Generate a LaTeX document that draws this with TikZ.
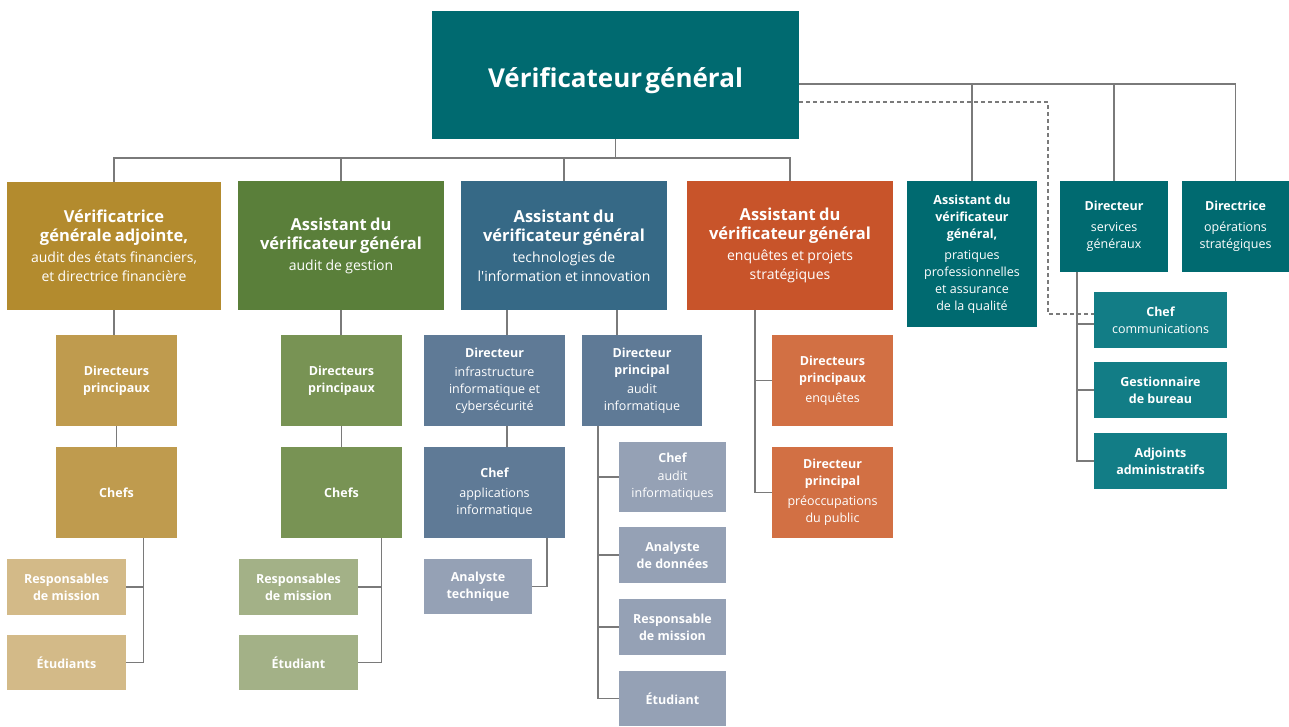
\documentclass[tikz,border=0pt]{standalone}
\usepackage{fontspec}
\setmainfont{Open Sans}
\usetikzlibrary{calc}
\definecolor{teal1}{HTML}{006A70}
\definecolor{teal2}{HTML}{127D86}
\definecolor{gold1}{HTML}{B38B2E}
\definecolor{gold2}{HTML}{BF9B4E}
\definecolor{gold3}{HTML}{D3BA88}
\definecolor{green1}{HTML}{5A7F3A}
\definecolor{green2}{HTML}{789354}
\definecolor{green3}{HTML}{A3B187}
\definecolor{blue1}{HTML}{366986}
\definecolor{blue2}{HTML}{5F7A96}
\definecolor{blue3}{HTML}{95A1B5}
\definecolor{orange1}{HTML}{C8542A}
\definecolor{orange2}{HTML}{D27044}
\definecolor{linegray}{HTML}{7A7A7A}
\newcommand{\bx}[7]{\node[box, fill=#6, minimum width={#4pt-#2pt}, minimum height={#5pt-#3pt}, text width={#4pt-#2pt-4pt}] (#1) at ({(#2+#4)/2},{-(#3+#5)/2}) {#7\par};}
\newcommand{\bigT}{\fontsize{16.5}{19}\selectfont\bfseries}
\newcommand{\bigS}{\fontsize{14}{19}\selectfont\mdseries}
\newcommand{\smT}{\fontsize{12.5}{17}\selectfont\bfseries}
\newcommand{\smS}{\fontsize{12.5}{17}\selectfont\mdseries}
\begin{document}
\begin{tikzpicture}[x=1pt,y=1pt,
  box/.style={inner sep=0pt, outer sep=0pt, text=white, align=center, draw=none},
  conn/.style={draw=linegray, line width=1.3pt},
  dashconn/.style={draw=linegray, line width=1.1pt, dash pattern=on 4pt off 3pt}]
\useasboundingbox (0,0) rectangle (1289,-726);
% top
\bx{top}{432}{11}{799}{139}{teal1}{\fontsize{26}{32}\selectfont\bfseries\raisebox{-12.3pt}[0pt][0pt]{Vérificateur général}}
% level 1
\bx{b1}{7}{182}{221}{310}{gold1}{\bigT Vérificatrice\\générale adjointe,\\[2pt]\bigS audit des états financiers,\\et directrice financière}
\bx{b2}{238}{181}{444}{310}{green1}{\bigT Assistant du\\vérificateur général\\[2pt]\bigS audit de gestion}
\bx{b3}{461}{181}{667}{310}{blue1}{\bigT Assistant du\\vérificateur général\\[2pt]\bigS technologies de\\l\textquotesingle information et innovation}
\bx{b4}{687}{181}{893}{310}{orange1}{\bigT Assistant du\\vérificateur général\\[2pt]\bigS enquêtes et projets\\stratégiques}
\bx{b5}{907}{181}{1037}{327}{teal1}{\smT Assistant du\\vérificateur\\général,\\[4pt]\smS pratiques\\professionnelles\\et assurance\\de la qualité}
\bx{b6}{1060}{181}{1168}{272}{teal1}{\smT Directeur\\[4pt]\smS services\\généraux}
\bx{b7}{1182}{181}{1289}{272}{teal1}{\smT Directrice\\[4pt]\smS opérations\\stratégiques}
% b6 children
\bx{b6cc}{1094}{292}{1227}{348}{teal2}{\smT Chef\\\smS communications}
\bx{b6gb}{1094}{362}{1227}{418}{teal2}{\smT Gestionnaire\\de bureau}
\bx{b6aa}{1094}{433}{1227}{489}{teal2}{\smT Adjoints\\administratifs}
% b1 children
\bx{b1dp}{56}{335}{177}{426}{gold2}{\smT Directeurs\\principaux}
\bx{b1c}{56}{447}{177}{538}{gold2}{\smT Chefs}
\bx{b1r}{7}{559}{126}{615}{gold3}{\smT Responsables\\de mission}
\bx{b1e}{7}{635}{126}{690}{gold3}{\smT Étudiants}
% b2 children
\bx{b2dp}{281}{335}{402}{426}{green2}{\smT Directeurs\\principaux}
\bx{b2c}{281}{447}{402}{538}{green2}{\smT Chefs}
\bx{b2r}{239}{559}{358}{615}{green3}{\smT Responsables\\de mission}
\bx{b2e}{239}{635}{358}{690}{green3}{\smT Étudiant}
% b3 children
\bx{b3di}{424}{335}{565}{426}{blue2}{\smT Directeur\\[2pt]\smS infrastructure\\informatique et\\cybersécurité}
\bx{b3dp}{582}{335}{702}{426}{blue2}{\smT Directeur\\principal\\[2pt]\smS audit\\informatique}
\bx{b3ca}{424}{447}{565}{538}{blue2}{\smT Chef\\[3pt]\smS applications\\informatique}
\bx{b3at}{424}{559}{532}{614}{blue3}{\smT Analyste\\technique}
\bx{b3ch}{619}{442}{726}{512}{blue3}{\smT Chef\\[1pt]\smS audit\\informatiques}
\bx{b3ad}{619}{527}{726}{583}{blue3}{\smT Analyste\\de données}
\bx{b3rm}{619}{599}{726}{655}{blue3}{\smT Responsable\\de mission}
\bx{b3e}{619}{671}{726}{726}{blue3}{\smT Étudiant}
% b4 children
\bx{b4dp}{772}{335}{893}{426}{orange2}{\smT Directeurs\\principaux\\[3pt]\smS enquêtes}
\bx{b4pp}{772}{447}{893}{538}{orange2}{\smT Directeur\\principal\\[3pt]\smS préoccupations\\du public}
% connectors: top bus
\coordinate (bus) at (0,-158);
\draw[conn] (top.south) -- (top.south |- bus);
\draw[conn] (b1.north) -- (b1.north |- bus) -- (b4.north |- bus) -- (b4.north);
\draw[conn] (b2.north) -- (b2.north |- bus);
\draw[conn] (b3.north) -- (b3.north |- bus);
% right bus
\coordinate (r1) at ([yshift=-9pt]top.east);
\draw[conn] (r1) -| (b7.north);
\draw[conn] (b5.north) -- (b5.north |- r1);
\draw[conn] (b6.north) -- (b6.north |- r1);
% dashed
\coordinate (dk) at ([yshift=6pt]b6cc.west);
\draw[dashconn] ([yshift=-27pt]top.east) -| ([xshift=-46pt]dk) -- (dk);
% b6 children
\coordinate (b6x) at ([xshift=-37pt]b6.south);
\draw[conn] (b6x) |- (b6aa.west);
\draw[conn] ([yshift=-4pt]b6cc.west) -- ([yshift=-4pt]b6cc.west -| b6x);
\draw[conn] (b6gb.west) -- (b6gb.west -| b6x);
% b1 children
\draw[conn] (b1.south) -- (b1.south |- b1dp.north);
\draw[conn] (b1dp.south) -- (b1c.north);
\coordinate (b1x) at ([xshift=27pt]b1c.south);
\draw[conn] (b1x) |- (b1e.east);
\draw[conn] (b1r.east) -- (b1r.east -| b1x);
% b2 children
\draw[conn] (b2.south) -- (b2.south |- b2dp.north);
\draw[conn] (b2dp.south) -- (b2c.north);
\coordinate (b2x) at ([xshift=40pt]b2c.south);
\draw[conn] (b2x) |- (b2e.east);
\draw[conn] (b2r.east) -- (b2r.east -| b2x);
% b3 children
\coordinate (b3a) at ([xshift=12.5pt]b3di.north);
\draw[conn] (b3a) -- (b3a |- b3.south);
\coordinate (b3b) at ([xshift=-25pt]b3dp.north);
\draw[conn] (b3b) -- (b3b |- b3.south);
\draw[conn] ([xshift=12.5pt]b3di.south) -- ([xshift=12.5pt]b3ca.north);
\draw[conn] ([xshift=52.5pt]b3ca.south) |- (b3at.east);
\coordinate (b3x) at ([xshift=-44pt]b3dp.south);
\draw[conn] (b3x) |- (b3e.west);
\draw[conn] (b3ch.west) -- (b3ch.west -| b3x);
\draw[conn] (b3ad.west) -- (b3ad.west -| b3x);
\draw[conn] (b3rm.west) -- (b3rm.west -| b3x);
% b4 children
\coordinate (b4x) at ([xshift=-35pt]b4.south);
\draw[conn] (b4x) |- (b4pp.west);
\draw[conn] (b4dp.west) -- (b4dp.west -| b4x);
\end{tikzpicture}
\end{document}
